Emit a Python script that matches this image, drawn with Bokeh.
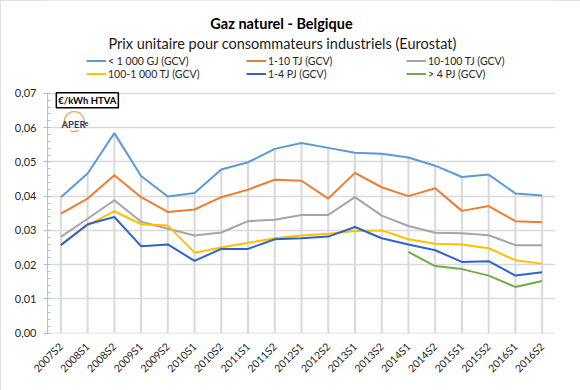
import math
from bokeh.plotting import figure
from bokeh.models import (FactorRange, Range1d, Legend, LegendItem, Label,
                          CustomJSTickFormatter, FixedTicker)
from bokeh.core.properties import value
from bokeh.embed import file_html
from bokeh.resources import INLINE

nan = float("nan")

categories = ["2007S2", "2008S1", "2008S2", "2009S1", "2009S2", "2010S1", "2010S2",
              "2011S1", "2011S2", "2012S1", "2012S2", "2013S1", "2013S2", "2014S1",
              "2014S2", "2015S1", "2015S2", "2016S1", "2016S2"]

lt_1000_gj = [0.0397, 0.0466, 0.0584, 0.0459, 0.0399, 0.0409, 0.0478, 0.0499, 0.0538, 0.0555,
              0.0541, 0.0527, 0.0524, 0.0513, 0.0489, 0.0456, 0.0463, 0.0408, 0.0402]
tj_1_10 = [0.0349, 0.0393, 0.0461, 0.0397, 0.0354, 0.0361, 0.0397, 0.0419, 0.0448, 0.0445,
           0.0393, 0.0468, 0.0426, 0.0400, 0.0423, 0.0357, 0.0371, 0.0327, 0.0324]
tj_10_100 = [0.0281, 0.0334, 0.0388, 0.0325, 0.0305, 0.0285, 0.0294, 0.0327, 0.0331, 0.0345,
             0.0345, 0.0397, 0.0343, 0.0313, 0.0293, 0.0292, 0.0286, 0.0257, 0.0257]
tj_100_1000 = [0.0258, 0.0315, 0.0356, 0.0318, 0.0314, 0.0235, 0.0250, 0.0264, 0.0277, 0.0285,
               0.0290, 0.0298, 0.0300, 0.0274, 0.0261, 0.0259, 0.0248, 0.0213, 0.0203]
pj_1_4 = [0.0257, 0.0318, 0.0339, 0.0254, 0.0259, 0.0211, 0.0246, 0.0246, 0.0274, 0.0277,
          0.0282, 0.0310, 0.0277, 0.0259, 0.0242, 0.0208, 0.0210, 0.0168, 0.0178]
gt_4_pj = [nan] * 13 + [0.0237, 0.0196, 0.0187, 0.0168, 0.0135, 0.0152]

y_ticks = [0.00, 0.01, 0.02, 0.03, 0.04, 0.05, 0.06, 0.07]
y_minor_ticks = [i * 0.002 for i in range(36)]

series_labels = ["< 1 000 GJ (GCV)", "1-10 TJ (GCV)", "10-100 TJ (GCV)",
                 "100-1 000 TJ (GCV)", "1-4 PJ (GCV)", "> 4 PJ (GCV)"]
series_colors = ["#5B9BD5", "#ED7D31", "#A5A5A5", "#FFC000", "#2E64C8", "#70AD47"]
series_values = [lt_1000_gj, tj_1_10, tj_10_100, tj_100_1000, pj_1_4, gt_4_pj]

title_text = "Gaz naturel - Belgique"
subtitle_text = "Prix unitaire pour consommateurs industriels (Eurostat)"
unit_text = "€/kWh HTVA"

FONT = "Lato"
TXT = "#262626"
Y_TOP = 0.097125
Y_BOT = -0.0001

p = figure(width=580, height=390, output_backend="svg", toolbar_location=None,
           x_range=FactorRange(*categories), y_range=Range1d(Y_BOT, Y_TOP),
           min_border_left=47, min_border_right=25, min_border_bottom=57, min_border_top=0)
p.outline_line_color = None
p.background_fill_color = "white"
p.border_fill_color = "white"
p.styles = {"outline": "3px solid #D9D9D9", "outline-offset": "-3px"}

# grid
p.xgrid.grid_line_color = None
p.ygrid.grid_line_color = "#D9D9D9"
p.ygrid.grid_line_width = 1.3

# y axis
p.yaxis.ticker = FixedTicker(ticks=y_ticks, minor_ticks=y_minor_ticks)
p.yaxis.bounds = (y_ticks[0], y_ticks[-1])
p.yaxis.formatter = CustomJSTickFormatter(code="return tick.toFixed(2).replace('.', ',');")
p.yaxis.axis_line_color = "#9DC3E6"
p.yaxis.major_tick_line_color = "#9DC3E6"
p.yaxis.minor_tick_line_color = "#9DC3E6"
p.yaxis.major_tick_out = 4
p.yaxis.major_tick_in = 0
p.yaxis.minor_tick_in = 3
p.yaxis.minor_tick_out = 0
p.yaxis.major_label_text_font = FONT
p.yaxis.major_label_text_font_size = "11px"
p.yaxis.major_label_text_color = TXT
p.yaxis.major_label_standoff = 7

# x axis (rotated category labels)
p.xaxis.axis_line_color = None
p.xaxis.major_tick_line_color = None
p.xaxis.minor_tick_line_color = None
p.xaxis.major_label_orientation = math.pi / 4
p.xaxis.major_label_text_font = FONT
p.xaxis.major_label_text_font_size = "10.5px"
p.xaxis.major_label_text_color = TXT
p.xaxis.major_label_standoff = 5

# drop lines from the highest series down to zero
p.segment(x0=categories, y0=[0] * len(categories), x1=categories, y1=lt_1000_gj,
          line_color="#D9D9D9", line_width=2)

items = []
for lab, col, vals in zip(series_labels, series_colors, series_values):
    r = p.line(x=categories, y=vals, line_color=col, line_width=2)
    items.append(LegendItem(label=lab, renderers=[r]))

legend = Legend(items=items, orientation="horizontal", ncols=3, location=(39, 253),
                margin=0, padding=0, spacing=0, glyph_width=20, glyph_height=13,
                label_height=13, label_width=138, label_standoff=2,
                label_text_font=FONT, label_text_font_size="10.5px", label_text_color=TXT,
                border_line_color=None, background_fill_alpha=0)
p.add_layout(legend, "center")

p.add_layout(Label(x=8.752, y=0.090271, text=title_text, text_align="center",
                   text_baseline="alphabetic", text_font=FONT, text_font_size="14.5px",
                   text_font_style="bold", text_color="#000000"))
p.add_layout(Label(x=8.79, y=0.084583, text=subtitle_text, text_align="center",
                   text_baseline="alphabetic", text_font=FONT, text_font_size="14.5px",
                   text_color="#1a1a1a"))

# unit box
p.add_layout(Label(x=0.33, y=0.0702, text=unit_text, text_baseline="top", text_align="left",
                   text_font=FONT, text_font_size="9.5px", text_font_style="bold",
                   text_color="#000000", border_line_color="#000000", border_line_width=1.5,
                   background_fill_color="white", padding=2))

# APERe logo
p.arc(x=[1.0], y=[0.06175], radius=10, radius_units="screen", start_angle=-0.35,
      end_angle=3.55, line_color="#F4A460", line_width=1.3)
p.arc(x=[1.0], y=[0.06175], radius=10, radius_units="screen", start_angle=4.3,
      end_angle=5.2, line_color="#F4A460", line_width=1.3)
p.text(x=[0.524], y=[0.060959], text=["APER"], text_font=value(FONT), text_font_size="9.5px",
       text_font_style="bold", text_color="#2B3A6B", text_baseline="middle")
p.text(x=[1.384], y=[0.061400], text=["e"], text_font=value(FONT), text_font_size="7.5px",
       text_font_style="bold", text_color="#2B3A6B", text_baseline="middle")

open("out.html", "w").write(file_html(p, INLINE))
